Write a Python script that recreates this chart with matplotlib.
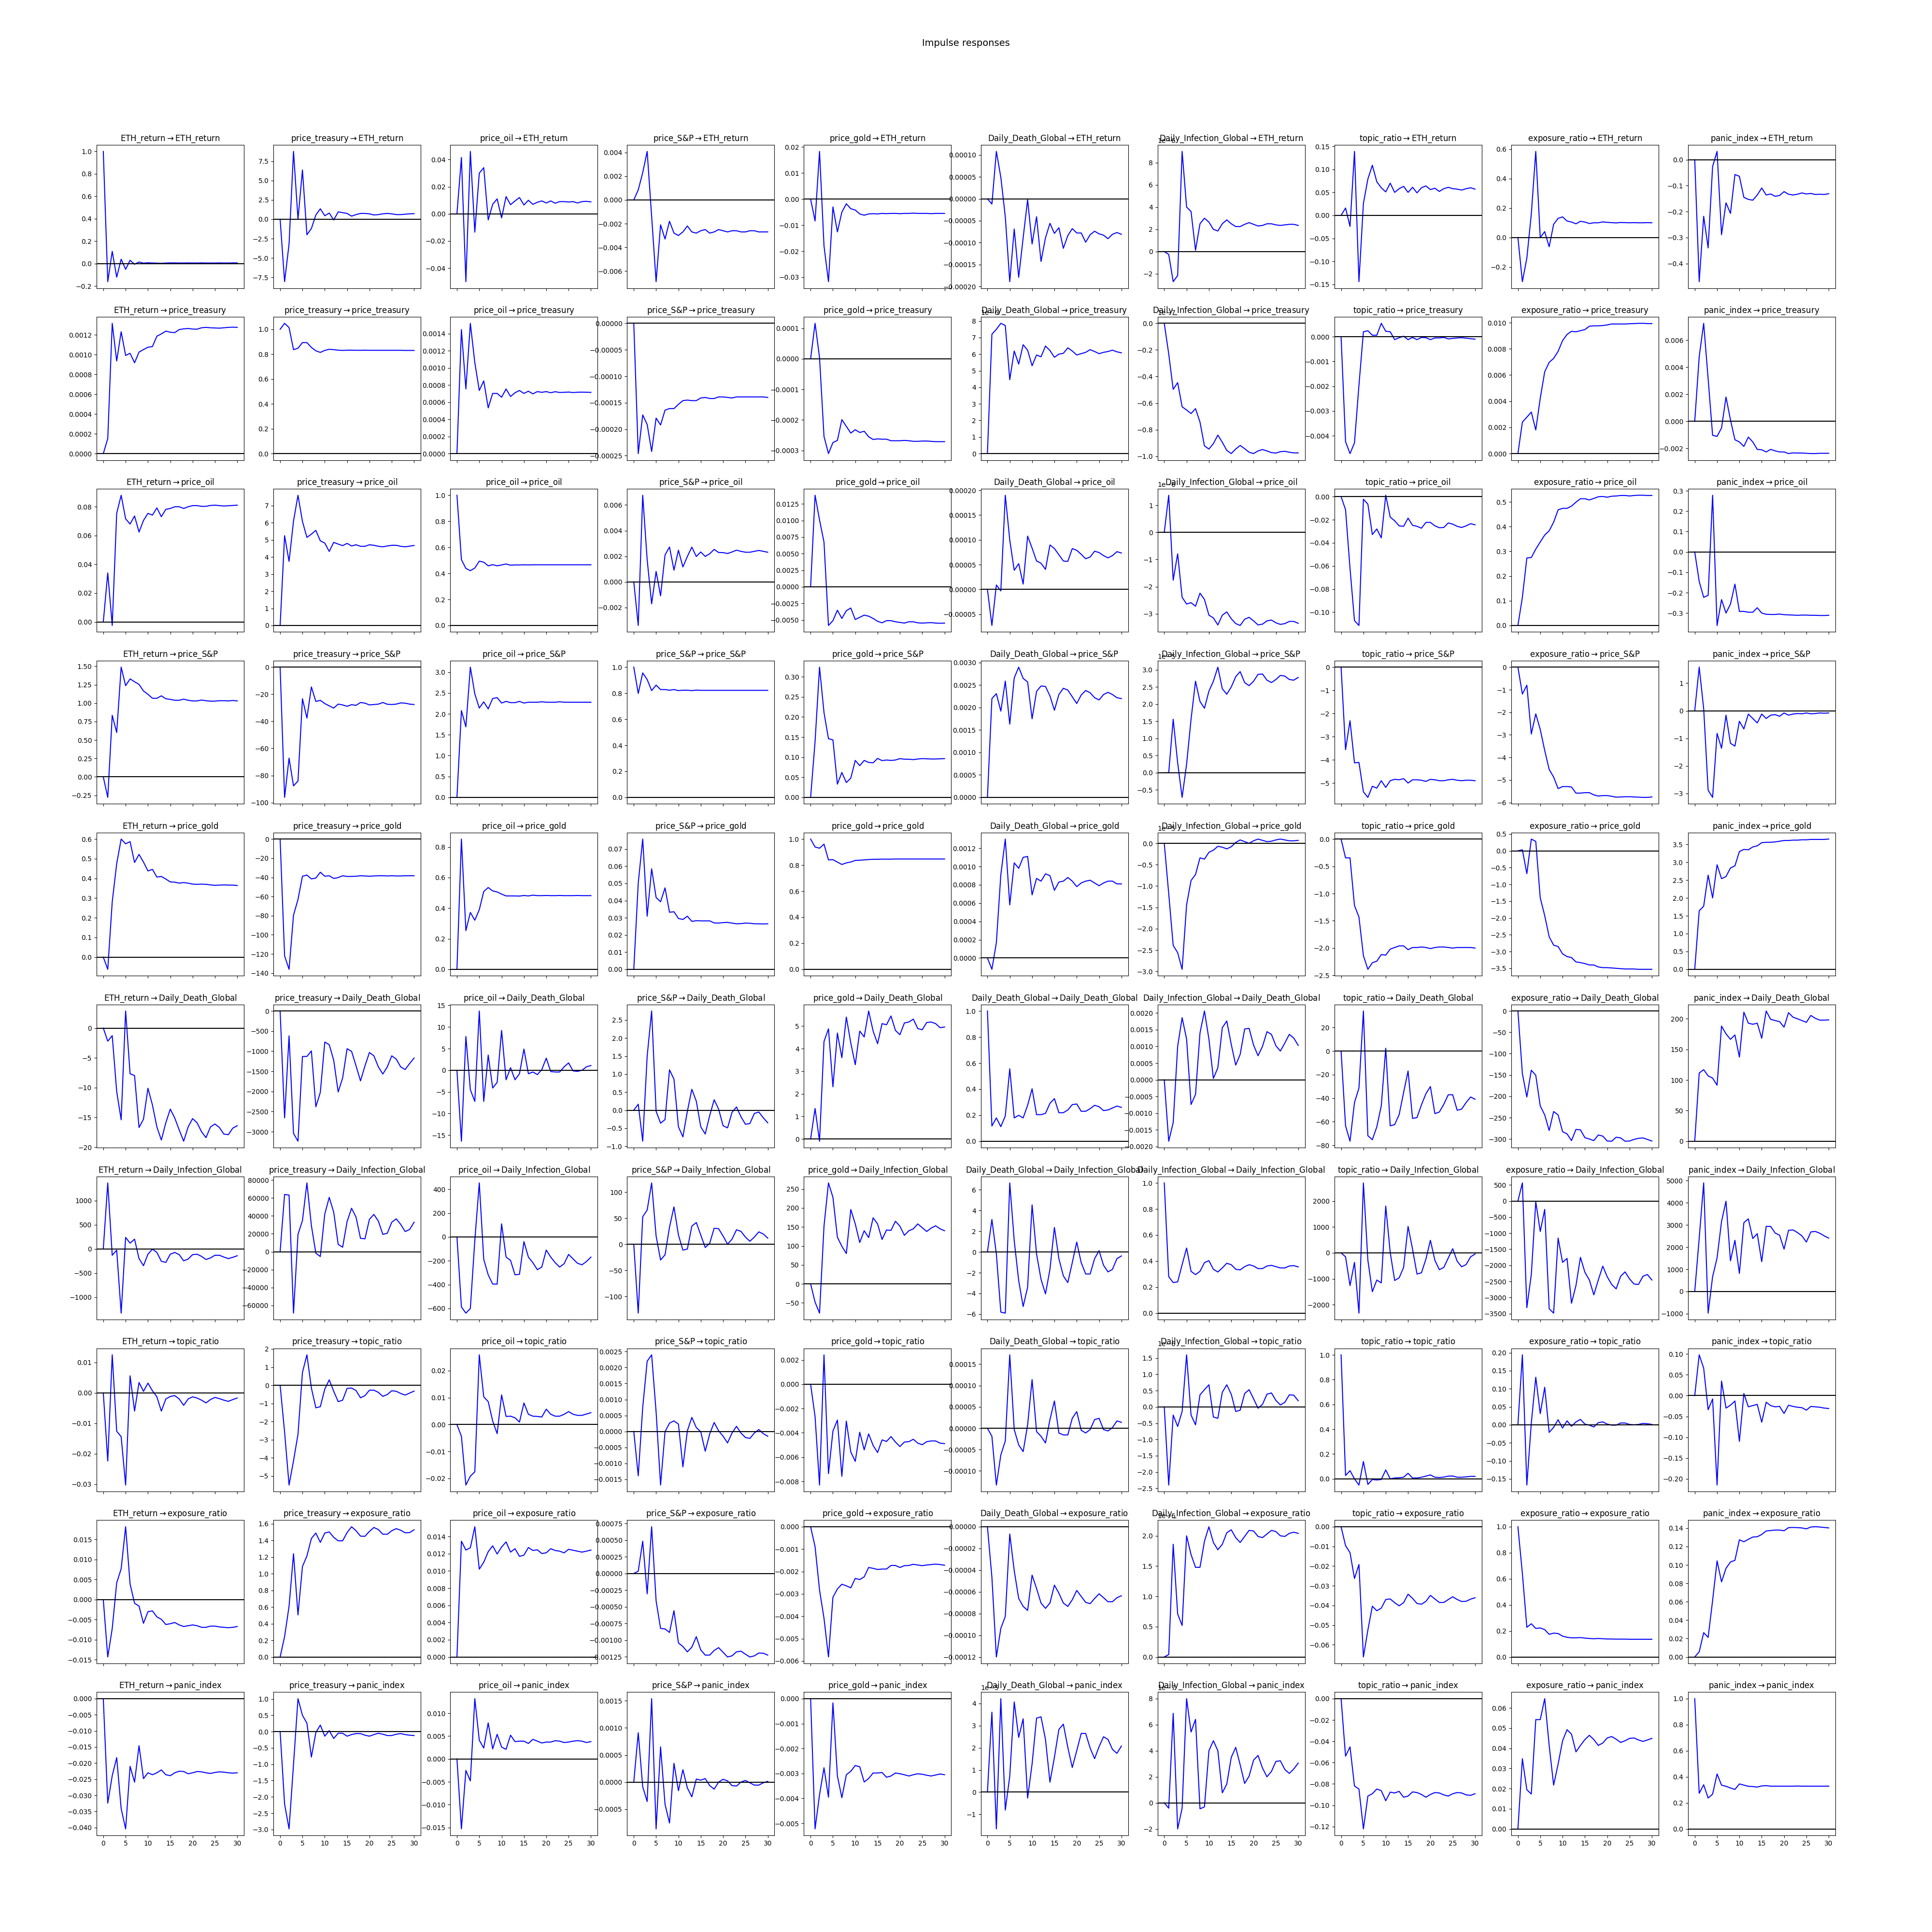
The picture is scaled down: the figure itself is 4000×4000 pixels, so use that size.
"""
VAR 脉冲响应网格图
------------------
10 个变量两两之间的脉冲响应（0~30 期），布局仿照 statsmodels 的 irf.plot()。
"""

import matplotlib
matplotlib.use("Agg")
import matplotlib.pyplot as plt

names = ["ETH_return", "price_treasury", "price_oil", "price_S&P", "price_gold",
         "Daily_Death_Global", "Daily_Infection_Global", "topic_ratio",
         "exposure_ratio", "panic_index"]

periods = list(range(31))

# ---------- 响应: ETH_return ----------
eth_eth = [1.0, -0.16, 0.11, -0.12, 0.04, -0.05, 0.03, -0.005, 0.015, 0.005,
           0.008, 0.006, 0.005, 0.003, 0.006, 0.007, 0.007, 0.006, 0.006, 0.007,
           0.006, 0.006, 0.007, 0.006, 0.006, 0.006, 0.007, 0.006, 0.006, 0.007, 0.007]
trs_eth = [0.0, -8.05, -3.2, 8.75, 0.0, 6.35, -2.0, -1.2, 0.55, 1.35,
           0.45, 0.8, -0.1, 0.95, 0.85, 0.75, 0.4, 0.6, 0.75, 0.75,
           0.7, 0.55, 0.6, 0.7, 0.75, 0.7, 0.6, 0.6, 0.65, 0.7, 0.72]
oil_eth = [0.0, 0.0415, -0.05, 0.046, -0.0135, 0.03, 0.034, -0.0045, 0.007, 0.011,
           -0.003, 0.0127, 0.0067, 0.0095, 0.012, 0.0065, 0.010, 0.007, 0.0085, 0.0095,
           0.008, 0.0095, 0.0078, 0.009, 0.009, 0.0087, 0.009, 0.008, 0.009, 0.0092, 0.0088]
spx_eth = [0.0, 0.00085, 0.0023, 0.0041, -0.0014, -0.0069, -0.0021, -0.0033, -0.0018, -0.0028,
           -0.003, -0.0027, -0.0022, -0.0027, -0.0028, -0.0026, -0.0025, -0.0028, -0.0027, -0.0025,
           -0.0026, -0.0027, -0.0026, -0.0026, -0.0027, -0.0027, -0.0026, -0.0026, -0.0027, -0.0027, -0.0027]
gld_eth = [0.0, -0.0084, 0.0183, -0.018, -0.0317, -0.003, -0.0126, -0.005, -0.0018, -0.0037,
           -0.0042, -0.0057, -0.0062, -0.0057, -0.0056, -0.0057, -0.0055, -0.0056, -0.0055, -0.0055,
           -0.0056, -0.0055, -0.0055, -0.0054, -0.0055, -0.0055, -0.0055, -0.0056, -0.0055, -0.0055, -0.0055]
dth_eth = [0.0, -0.000012, 0.000108, 0.000049, -0.000041, -0.000189, -0.000069, -0.000179, -0.000089, -0.000002,
           -0.000103, -0.000041, -0.000143, -0.000089, -0.000056, -0.000079, -0.000066, -0.000113, -0.000084, -0.000068,
           -0.000078, -0.000078, -0.000099, -0.000082, -0.000074, -0.00008, -0.000083, -0.000091, -0.000081, -0.000077, -0.000081]
inf_eth = [v * 1e-6 for v in
           [0.0, -0.25, -2.7, -2.15, 9.0, 4.0, 3.6, 0.12, 2.5, 3.0,
            2.65, 2.0, 1.85, 2.5, 2.85, 2.5, 2.25, 2.25, 2.45, 2.6,
            2.45, 2.3, 2.35, 2.5, 2.5, 2.4, 2.35, 2.4, 2.45, 2.45, 2.35]]
top_eth = [0.0, 0.016, -0.024, 0.139, -0.144, 0.026, 0.079, 0.109, 0.073, 0.06,
           0.051, 0.07, 0.05, 0.058, 0.063, 0.05, 0.061, 0.049, 0.06, 0.064,
           0.056, 0.059, 0.052, 0.058, 0.061, 0.058, 0.057, 0.055, 0.058, 0.06, 0.057]
exp_eth = [0.0, -0.30, -0.14, 0.16, 0.585, 0.0, 0.04, -0.063, 0.09, 0.13,
           0.14, 0.112, 0.105, 0.093, 0.11, 0.105, 0.095, 0.1, 0.1, 0.106,
           0.103, 0.101, 0.099, 0.102, 0.101, 0.1, 0.101, 0.1, 0.1, 0.101, 0.1]
pan_eth = [0.0, -0.47, -0.218, -0.34, -0.026, 0.032, -0.289, -0.166, -0.207, -0.057,
           -0.064, -0.145, -0.153, -0.156, -0.136, -0.109, -0.136, -0.132, -0.141, -0.138,
           -0.123, -0.133, -0.136, -0.133, -0.128, -0.132, -0.13, -0.134, -0.133, -0.134, -0.131]

# ---------- 响应: price_treasury ----------
eth_trs = [0.0, 0.000152, 0.001317, 0.000936, 0.001232, 0.000992, 0.001014, 0.000918, 0.001026, 0.001052,
           0.001075, 0.001082, 0.001187, 0.00121, 0.001238, 0.001227, 0.001223, 0.001254, 0.001261, 0.001265,
           0.001259, 0.001258, 0.001272, 0.001276, 0.001272, 0.00127, 0.001268, 0.001272, 0.001276, 0.001278, 0.001276]
trs_trs = [1.0, 1.048, 1.014, 0.836, 0.848, 0.893, 0.893, 0.854, 0.827, 0.814,
           0.83, 0.839, 0.836, 0.832, 0.83, 0.832, 0.832, 0.831, 0.831, 0.832,
           0.831, 0.831, 0.831, 0.831, 0.831, 0.831, 0.831, 0.831, 0.83, 0.83, 0.83]
oil_trs = [0.0, 0.001447, 0.000754, 0.00152, 0.001061, 0.000736, 0.000848, 0.000533, 0.000702, 0.000702,
           0.000658, 0.000754, 0.000666, 0.00071, 0.000736, 0.000702, 0.000728, 0.000697, 0.000723, 0.000715,
           0.000723, 0.00071, 0.000722, 0.000713, 0.000715, 0.000718, 0.000712, 0.000716, 0.000717, 0.000716, 0.000714]
spx_trs = [0.0, -0.000246, -0.000173, -0.000191, -0.000242, -0.000179, -0.000192, -0.000164, -0.000161, -0.000161,
           -0.000153, -0.000146, -0.000145, -0.000146, -0.000146, -0.000141, -0.00014, -0.000142, -0.000142, -0.000139,
           -0.000139, -0.00014, -0.000141, -0.000139, -0.000139, -0.000139, -0.000139, -0.000139, -0.000139, -0.000139, -0.00014]
gld_trs = [0.0, 0.000116, 0.000004, -0.000254, -0.00031, -0.000274, -0.000267, -0.000199, -0.000221, -0.000243,
           -0.000232, -0.000241, -0.000237, -0.000255, -0.000264, -0.000262, -0.000263, -0.000263, -0.000268, -0.000268,
           -0.000268, -0.000267, -0.000268, -0.00027, -0.00027, -0.000269, -0.000269, -0.00027, -0.000271, -0.000271, -0.000271]
dth_trs = [v * 1e-6 for v in
           [0.0, 7.2, 7.5, 7.86, 7.73, 4.46, 6.19, 5.4, 6.57, 6.24,
            5.3, 5.95, 5.84, 6.49, 6.22, 5.81, 6.0, 6.05, 6.38, 6.19,
            5.95, 6.03, 6.11, 6.27, 6.16, 6.03, 6.11, 6.16, 6.24, 6.14, 6.08]]
inf_trs = [v * 1e-7 for v in
           [0.0, -0.23, -0.497, -0.446, -0.628, -0.652, -0.679, -0.642, -0.743, -0.922,
            -0.946, -0.905, -0.841, -0.895, -0.956, -0.98, -0.946, -0.919, -0.943, -0.97,
            -0.98, -0.96, -0.95, -0.96, -0.973, -0.976, -0.966, -0.963, -0.97, -0.975, -0.975]]
top_trs = [0.0, -0.00424, -0.00472, -0.00429, -0.00196, 0.0002, 0.00024, 0.00006, 0.00006, 0.00054,
           0.00022, 0.0002, -0.00012, -0.00004, 0.00002, -0.00012, -0.00003, -0.00012, -0.00003, -0.00004,
           -0.00012, -0.00005, -0.00005, -0.00003, -0.00009, -0.00007, -0.00005, -0.00004, -0.00006, -0.00008, -0.0001]
exp_trs = [0.0, 0.0024, 0.00278, 0.00317, 0.0018, 0.00422, 0.00625, 0.00697, 0.00727, 0.00781,
           0.00863, 0.0091, 0.00934, 0.0093, 0.00939, 0.00947, 0.00973, 0.00976, 0.00976, 0.00978,
           0.00983, 0.0099, 0.0099, 0.0099, 0.0099, 0.00992, 0.00993, 0.00995, 0.00995, 0.00993, 0.00993]
pan_trs = [0.0, 0.00479, 0.00725, 0.00315, -0.00103, -0.00111, -0.00049, 0.0018, 0.00011, -0.00136,
           -0.00152, -0.00185, -0.00116, -0.00152, -0.00207, -0.0021, -0.00226, -0.00207, -0.00218, -0.00226,
           -0.00226, -0.00238, -0.00233, -0.00234, -0.00234, -0.00236, -0.00238, -0.00238, -0.00236, -0.00236, -0.00236]

# ---------- 响应: price_oil ----------
eth_oil = [0.0, 0.034, -0.0025, 0.0754, 0.088, 0.0716, 0.068, 0.0736, 0.0624, 0.0705,
           0.0754, 0.0742, 0.0792, 0.0731, 0.0782, 0.0788, 0.08, 0.08, 0.0788, 0.08,
           0.0808, 0.0808, 0.0803, 0.0803, 0.0809, 0.0811, 0.0808, 0.0805, 0.0807, 0.0809, 0.0811]
trs_oil = [0.0, 5.24, 3.74, 6.1, 7.6, 6.07, 5.14, 5.33, 5.55, 4.94,
           4.81, 4.32, 4.85, 4.75, 4.66, 4.79, 4.64, 4.71, 4.62, 4.62,
           4.71, 4.68, 4.62, 4.59, 4.64, 4.68, 4.68, 4.62, 4.59, 4.63, 4.67]
oil_oil = [1.0, 0.506, 0.438, 0.421, 0.441, 0.494, 0.486, 0.458, 0.467, 0.458,
           0.465, 0.472, 0.463, 0.465, 0.465, 0.466, 0.465, 0.466, 0.466, 0.466,
           0.466, 0.466, 0.466, 0.466, 0.466, 0.466, 0.466, 0.466, 0.466, 0.466, 0.466]
spx_oil = [0.0, -0.00341, 0.00676, 0.00172, -0.00172, 0.00081, -0.00109, 0.0021, 0.00272, 0.00091,
           0.00247, 0.00116, 0.00198, 0.00271, 0.00198, 0.00233, 0.00198, 0.00219, 0.00253, 0.00229,
           0.00228, 0.00221, 0.00233, 0.00247, 0.00238, 0.00231, 0.00231, 0.00238, 0.00245, 0.00238, 0.00231]
gld_oil = [0.0, 0.0138, 0.01007, 0.00673, -0.00583, -0.0051, -0.00353, -0.00477, -0.0036, -0.0032,
           -0.00493, -0.0046, -0.00427, -0.00443, -0.00477, -0.0052, -0.00543, -0.0051, -0.0051, -0.00527,
           -0.00537, -0.00547, -0.00527, -0.00527, -0.00543, -0.00547, -0.00543, -0.0054, -0.00547, -0.0055, -0.00547]
dth_oil = [0.0, -0.0000727, 0.000009, -0.000003, 0.00019, 0.0000996, 0.0000386, 0.000052, 0.0000108, 0.0001076,
           0.0000834, 0.0000574, 0.0000529, 0.0000404, 0.0000897, 0.0000825, 0.00007, 0.0000574, 0.0000565, 0.0000825,
           0.0000789, 0.0000709, 0.0000619, 0.0000655, 0.0000771, 0.0000744, 0.0000682, 0.0000637, 0.0000682, 0.0000762, 0.0000735]
inf_oil = [v * 1e-6 for v in
           [0.0, 1.37, -1.76, -0.79, -2.39, -2.64, -2.59, -2.72, -2.24, -2.47,
            -3.05, -3.15, -3.41, -3.05, -2.93, -3.18, -3.36, -3.43, -3.2, -3.13,
            -3.26, -3.41, -3.38, -3.26, -3.23, -3.33, -3.39, -3.36, -3.28, -3.28, -3.35]]
top_oil = [0.0, -0.0113, -0.0622, -0.1073, -0.1115, -0.0023, -0.0065, -0.0328, -0.028, -0.0357,
           0.0012, -0.0177, -0.0209, -0.0253, -0.0257, -0.0186, -0.0248, -0.0257, -0.0273, -0.0223,
           -0.0223, -0.0253, -0.0269, -0.0267, -0.0228, -0.0238, -0.0257, -0.0267, -0.0253, -0.0234, -0.0244]
exp_oil = [0.0, 0.114, 0.273, 0.275, 0.309, 0.338, 0.366, 0.383, 0.418, 0.468,
           0.474, 0.474, 0.483, 0.499, 0.513, 0.513, 0.508, 0.514, 0.521, 0.522,
           0.519, 0.523, 0.524, 0.526, 0.526, 0.524, 0.526, 0.527, 0.527, 0.526, 0.526]
pan_oil = [0.0, -0.145, -0.223, -0.213, 0.278, -0.361, -0.234, -0.3, -0.256, -0.158,
           -0.292, -0.292, -0.296, -0.296, -0.274, -0.3, -0.306, -0.307, -0.307, -0.305,
           -0.308, -0.309, -0.31, -0.311, -0.31, -0.31, -0.311, -0.311, -0.312, -0.312, -0.311]

# ---------- 响应: price_S&P ----------
eth_spx = [0.0, -0.278, 0.835, 0.602, 1.488, 1.237, 1.329, 1.29, 1.254, 1.165,
           1.12, 1.066, 1.066, 1.099, 1.06, 1.051, 1.039, 1.039, 1.054, 1.039,
           1.03, 1.03, 1.042, 1.033, 1.027, 1.027, 1.033, 1.033, 1.03, 1.036, 1.03]
trs_spx = [0.0, -96.2, -67.2, -87.7, -84.1, -23.3, -37.6, -14.6, -25.3, -24.5,
           -26.9, -28.6, -30.2, -27.3, -27.9, -28.9, -27.7, -28.2, -26.1, -26.6,
           -27.9, -27.6, -27.3, -26.1, -27.4, -27.6, -27.3, -26.4, -26.6, -27.3, -27.6]
oil_spx = [0.0, 2.08, 1.69, 3.12, 2.48, 2.14, 2.29, 2.12, 2.37, 2.39,
           2.26, 2.3, 2.27, 2.27, 2.3, 2.26, 2.28, 2.28, 2.28, 2.29,
           2.28, 2.28, 2.28, 2.29, 2.28, 2.28, 2.28, 2.28, 2.28, 2.28, 2.28]
spx_spx = [1.0, 0.798, 0.956, 0.905, 0.82, 0.862, 0.828, 0.828, 0.823, 0.828,
           0.82, 0.823, 0.823, 0.82, 0.824, 0.822, 0.822, 0.822, 0.822, 0.822,
           0.822, 0.822, 0.822, 0.822, 0.822, 0.822, 0.822, 0.822, 0.822, 0.822, 0.822]
gld_spx = [0.0, 0.139, 0.324, 0.211, 0.146, 0.143, 0.033, 0.062, 0.037, 0.048,
           0.092, 0.079, 0.092, 0.087, 0.086, 0.097, 0.0915, 0.093, 0.092, 0.093,
           0.0965, 0.095, 0.095, 0.094, 0.0955, 0.0965, 0.096, 0.0955, 0.0955, 0.096, 0.0965]
dth_spx = [0.0, 0.0022, 0.00231, 0.00192, 0.00259, 0.00163, 0.00266, 0.0029, 0.00265, 0.00257,
           0.00175, 0.00236, 0.00248, 0.00247, 0.00226, 0.00194, 0.00229, 0.00243, 0.00239, 0.00224,
           0.00209, 0.00228, 0.00238, 0.00233, 0.00222, 0.00217, 0.00229, 0.00234, 0.00229, 0.00222, 0.0022]
inf_spx = [v * 1e-5 for v in
           [0.0, 0.0, 1.56, 0.29, -0.72, 0.25, 1.56, 2.67, 2.08, 1.88,
            2.38, 2.67, 3.08, 2.45, 2.29, 2.5, 2.8, 2.95, 2.63, 2.54,
            2.67, 2.87, 2.88, 2.7, 2.63, 2.72, 2.84, 2.82, 2.72, 2.7, 2.78]]
top_spx = [0.0, -3.56, -2.31, -4.13, -4.11, -5.38, -5.62, -5.14, -5.22, -4.9,
           -5.19, -4.9, -4.84, -4.86, -4.81, -5.0, -4.86, -4.86, -4.88, -4.93,
           -4.84, -4.86, -4.9, -4.9, -4.86, -4.84, -4.88, -4.9, -4.88, -4.88, -4.9]
exp_spx = [0.0, -1.19, -0.8, -2.96, -2.07, -2.76, -3.69, -4.53, -4.87, -5.38,
           -5.29, -5.29, -5.31, -5.58, -5.58, -5.56, -5.56, -5.66, -5.71, -5.69,
           -5.69, -5.72, -5.76, -5.75, -5.74, -5.74, -5.75, -5.76, -5.77, -5.77, -5.75]
pan_spx = [0.0, 1.58, 0.08, -2.88, -3.14, -0.82, -1.36, -0.16, -1.18, -1.28,
           -0.38, -0.66, -0.12, -0.28, -0.44, -0.12, -0.28, -0.16, -0.14, -0.2,
           -0.08, -0.16, -0.12, -0.1, -0.11, -0.08, -0.11, -0.1, -0.08, -0.09, -0.08]

# ---------- 响应: price_gold ----------
eth_gld = [0.0, -0.062, 0.281, 0.475, 0.6, 0.576, 0.587, 0.481, 0.522, 0.483,
           0.438, 0.446, 0.407, 0.41, 0.397, 0.382, 0.381, 0.376, 0.379, 0.376,
           0.371, 0.37, 0.371, 0.37, 0.367, 0.365, 0.366, 0.367, 0.366, 0.366, 0.364]
trs_gld = [0.0, -122.0, -136.0, -79.4, -63.0, -38.8, -37.6, -41.6, -40.7, -34.6,
           -38.8, -38.3, -41.1, -40.2, -38.3, -39.0, -39.0, -38.8, -38.3, -38.5,
           -38.8, -38.5, -38.3, -38.3, -38.5, -38.3, -38.5, -38.5, -38.3, -38.3, -38.3]
oil_gld = [0.0, 0.852, 0.253, 0.372, 0.321, 0.39, 0.509, 0.535, 0.513, 0.506,
           0.492, 0.48, 0.48, 0.48, 0.479, 0.483, 0.48, 0.485, 0.482, 0.482,
           0.483, 0.482, 0.482, 0.483, 0.482, 0.482, 0.482, 0.483, 0.482, 0.482, 0.482]
spx_gld = [0.0, 0.0502, 0.0758, 0.0309, 0.0585, 0.0418, 0.0393, 0.0474, 0.0332, 0.0335,
           0.0296, 0.029, 0.0309, 0.0279, 0.0283, 0.0282, 0.0282, 0.0282, 0.027, 0.0269,
           0.0272, 0.0273, 0.0269, 0.0265, 0.0266, 0.0269, 0.0268, 0.0265, 0.0265, 0.0264, 0.0265]
gld_gld = [1.0, 0.939, 0.93, 0.961, 0.84, 0.842, 0.823, 0.805, 0.817, 0.824,
           0.836, 0.838, 0.84, 0.843, 0.845, 0.845, 0.846, 0.846, 0.846, 0.847,
           0.847, 0.847, 0.847, 0.847, 0.847, 0.847, 0.847, 0.847, 0.847, 0.847, 0.847]
dth_gld = [0.0, -0.000124, 0.000167, 0.00091, 0.0013, 0.00058, 0.00104, 0.00098, 0.0011, 0.00111,
           0.00069, 0.00087, 0.00084, 0.00092, 0.0009, 0.00074, 0.00083, 0.00084, 0.00088, 0.00084,
           0.00078, 0.00082, 0.00084, 0.00085, 0.00082, 0.00079, 0.00082, 0.00084, 0.00084, 0.00081, 0.00081]
inf_gld = [v * 1e-5 for v in
           [0.0, -1.18, -2.39, -2.56, -2.95, -1.44, -0.87, -0.73, -0.34, -0.37,
            -0.21, -0.16, -0.07, -0.09, -0.13, -0.08, 0.02, 0.08, 0.04, 0.0,
            0.06, 0.1, 0.07, 0.04, 0.05, 0.08, 0.1, 0.08, 0.06, 0.06, 0.07]]
top_gld = [0.0, -0.345, -0.345, -1.22, -1.43, -2.14, -2.39, -2.27, -2.24, -2.12,
           -2.13, -2.02, -1.99, -1.96, -1.96, -2.03, -1.99, -1.99, -1.98, -1.99,
           -2.01, -1.99, -1.98, -1.98, -1.99, -2.0, -1.99, -1.99, -1.99, -1.99, -2.0]
exp_gld = [0.0, 0.03, -0.68, 0.35, 0.28, -1.4, -1.93, -2.56, -2.81, -2.85,
           -3.07, -3.15, -3.18, -3.31, -3.33, -3.36, -3.4, -3.4, -3.46, -3.48,
           -3.48, -3.49, -3.5, -3.51, -3.52, -3.52, -3.52, -3.53, -3.53, -3.53, -3.53]
pan_gld = [0.0, 1.64, 1.77, 2.64, 2.0, 2.93, 2.54, 2.6, 2.84, 2.9,
           3.3, 3.36, 3.35, 3.43, 3.46, 3.55, 3.56, 3.56, 3.57, 3.59,
           3.61, 3.61, 3.62, 3.62, 3.63, 3.63, 3.64, 3.64, 3.64, 3.64, 3.65]

# ---------- 响应: Daily_Death_Global ----------
eth_dth = [0.0, -2.2, -1.27, -10.65, -15.4, 2.87, -7.67, -7.97, -16.7, -15.3,
           -10.1, -12.9, -16.6, -18.8, -15.9, -13.6, -15.1, -17.1, -19.0, -16.6,
           -15.2, -15.9, -17.4, -18.4, -16.6, -16.1, -16.7, -17.8, -17.9, -16.8, -16.4]
trs_dth = [0.0, -2657, -617, -3043, -3236, -1130, -1130, -992, -2381, -2023,
           -772, -838, -1224, -2012, -1665, -937, -1003, -1362, -1737, -1362,
           -1031, -1114, -1389, -1566, -1389, -1114, -1196, -1389, -1455, -1306, -1169]
oil_dth = [0.0, -16.4, 7.8, -4.5, -7.2, 13.7, -7.2, 3.5, -4.1, -2.8,
           9.2, -2.2, 0.6, -2.2, -0.8, 4.9, -0.8, -0.4, -1.0, 0.15,
           2.8, -0.3, -0.4, -0.4, 0.8, 1.7, -0.15, -0.25, 0.0, 0.8, 1.1]
spx_dth = [0.0, 0.166, -0.86, 1.5, 2.75, -0.03, -0.36, -0.26, 1.12, 0.86,
           -0.46, -0.74, -0.03, 0.58, 0.25, -0.46, -0.66, -0.15, 0.29, 0.03,
           -0.43, -0.49, -0.06, 0.09, -0.18, -0.39, -0.37, -0.09, -0.05, -0.21, -0.35]
gld_dth = [0.0, 1.35, -0.1, 4.32, 4.88, 2.31, 4.69, 3.6, 5.4, 4.25,
           3.29, 4.78, 4.52, 5.67, 4.78, 4.22, 5.11, 5.06, 5.45, 4.81,
           4.62, 5.14, 5.18, 5.31, 4.89, 4.84, 5.16, 5.18, 5.11, 4.93, 4.96]
dth_dth = [1.0, 0.117, 0.179, 0.112, 0.194, 0.556, 0.179, 0.199, 0.179, 0.276,
           0.403, 0.204, 0.204, 0.214, 0.291, 0.327, 0.219, 0.219, 0.24, 0.281,
           0.286, 0.23, 0.23, 0.25, 0.276, 0.265, 0.235, 0.24, 0.255, 0.27, 0.26]
inf_dth = [0.0, -0.00184, -0.00128, 0.001, 0.00186, 0.00122, -0.00074, -0.00044, 0.0014, 0.00206,
           0.00122, 0.00004, 0.00036, 0.00156, 0.00176, 0.00106, 0.00044, 0.00076, 0.00152, 0.00154,
           0.00104, 0.00072, 0.001, 0.00144, 0.00136, 0.00102, 0.00086, 0.0011, 0.00136, 0.00125, 0.00103]
top_dth = [0.0, -63.5, -76.6, -43.7, -31.4, 34.1, -71.9, -75.3, -64.4, -46.5,
           2.4, -63.5, -62.5, -54.0, -35.2, -16.9, -57.2, -56.5, -45.6, -36.2,
           -30.1, -53.1, -51.8, -45.2, -37.1, -37.1, -50.3, -49.3, -43.7, -39.0, -40.9]
exp_dth = [0.0, -146.6, -201.6, -138.7, -150.8, -222.5, -243.5, -280.1, -235.6, -243.5,
           -282.7, -288.0, -303.7, -277.5, -278.5, -296.9, -300.0, -303.7, -290.6, -293.2,
           -304.7, -305.2, -295.8, -297.4, -305.2, -304.7, -301.0, -298.4, -297.4, -301.0, -304.7]
pan_dth = [0.0, 111.4, 116.8, 106.7, 103.1, 91.5, 188.0, 175.4, 166.4, 173.6,
           137.4, 210.8, 192.8, 191.0, 192.8, 168.2, 212.7, 199.0, 197.1, 195.3,
           186.3, 209.9, 202.6, 200.0, 197.1, 194.2, 205.4, 200.7, 197.8, 197.8, 198.2]

# ---------- 响应: Daily_Infection_Global ----------
eth_inf = [0, 1365, -132, -27, -1329, 237, 119, 201, -201, -347,
           -110, -5, -73, -256, -279, -110, -73, -119, -247, -210,
           -119, -110, -155, -219, -187, -132, -132, -169, -201, -174, -142]
trs_inf = [0, 63900, 63200, -68600, 19300, 34700, 76800, 29200, -1700, -5400,
           42100, 60700, 44100, 8200, 5000, 33700, 48500, 38600, 14900, 14400,
           36200, 41600, 34200, 19300, 20600, 32900, 36700, 30500, 22500, 24800, 32900]
oil_inf = [0, -588, -640, -601, -30, 454, -188, -318, -396, -396,
           110, -169, -197, -318, -314, -39, -169, -216, -275, -253,
           -110, -169, -216, -253, -225, -147, -184, -221, -234, -206, -169]
spx_inf = [0, -132, 53, 66, 118, 16, -30, -20, 33, 72,
           18, -11, -9, 35, 42, 18, -6, 2, 31, 30,
           16, 0.4, 10, 28, 25, 14, 6, 14, 24, 20, 12]
gld_inf = [0, -48, -77, 152, 266, 228, 123, 99, 80, 196,
           158, 109, 140, 122, 174, 158, 117, 142, 141, 165,
           152, 128, 140, 145, 158, 148, 138, 147, 153, 145, 140]
dth_inf = [0.0, 3.14, -0.19, -5.8, -5.9, 6.67, 1.09, -2.76, -5.26, -3.4,
           4.55, -0.19, -2.63, -4.04, -1.67, 2.37, -0.64, -2.31, -2.95, -1.03,
           0.96, -1.03, -2.12, -2.12, -0.64, 0.13, -1.28, -1.92, -1.67, -0.64, -0.38]
inf_inf = [1.0, 0.28, 0.235, 0.24, 0.372, 0.5, 0.321, 0.296, 0.321, 0.388,
           0.403, 0.337, 0.316, 0.347, 0.383, 0.372, 0.337, 0.332, 0.357, 0.372,
           0.362, 0.342, 0.342, 0.362, 0.367, 0.357, 0.347, 0.347, 0.362, 0.365, 0.355]
top_inf = [0, -153, -1260, -366, -2323, 2698, -281, -1498, -1047, -1157,
           1804, 17, -1064, -962, -562, 1021, 145, -817, -766, -238,
           485, -281, -647, -562, -196, 162, -323, -536, -451, -153, -43]
exp_inf = [0, 562, -3313, -2284, -21, -947, -261, -3347, -3484, -1152,
           -1907, -1783, -3176, -2627, -1749, -2215, -2455, -2915, -2455, -2023,
           -2353, -2593, -2730, -2339, -2202, -2421, -2579, -2593, -2339, -2284, -2455]
pan_inf = [0, 2410, 4900, -976, 667, 1514, 3157, 4074, 1384, 2311,
           817, 3108, 3277, 2390, 2610, 1345, 2938, 2938, 2640, 2540,
           1912, 2759, 2779, 2660, 2510, 2231, 2689, 2709, 2630, 2510, 2410]

# ---------- 响应: topic_ratio ----------
eth_top = [0.0, -0.0224, 0.0125, -0.0126, -0.0144, -0.0303, 0.0056, -0.006, 0.0034, 0.0005,
           0.0032, 0.0007, -0.0013, -0.006, -0.002, -0.0012, -0.0009, -0.002, -0.0041, -0.002,
           -0.0013, -0.0017, -0.0024, -0.0033, -0.0022, -0.0015, -0.0019, -0.0024, -0.0028, -0.0022, -0.0017]
trs_top = [0.0, -2.58, -5.5, -4.16, -2.7, 0.71, 1.68, -0.15, -1.24, -1.18,
           -0.21, 0.3, -0.33, -0.9, -0.82, -0.17, -0.15, -0.29, -0.69, -0.57,
           -0.27, -0.27, -0.39, -0.61, -0.51, -0.3, -0.33, -0.45, -0.54, -0.43, -0.32]
oil_top = [0.0, -0.0044, -0.0225, -0.0192, -0.0176, 0.0259, 0.0103, 0.0085, 0.0013, -0.0034,
           0.011, 0.003, 0.0031, 0.0025, 0.0009, 0.008, 0.0038, 0.0031, 0.003, 0.0028,
           0.0057, 0.0038, 0.0031, 0.0031, 0.0038, 0.0048, 0.0038, 0.0034, 0.0034, 0.0039, 0.0044]
spx_top = [0.0, -0.00139, 0.00075, 0.0022, 0.0024, 0.00061, -0.00168, -0.00001, 0.00026, 0.00033,
           0.00023, -0.00111, 0.00002, 0.00044, 0.00012, -0.00001, -0.00062, -0.00008, 0.00028, 0.00002,
           -0.00015, -0.00036, -0.00005, 0.00016, -0.00005, -0.00019, -0.00022, -0.00005, 0.00006, -0.00007, -0.00015]
gld_top = [0.0, -0.00267, -0.0083, 0.00242, -0.00736, -0.00385, -0.00295, -0.00758, -0.00304, -0.00558,
           -0.00635, -0.00395, -0.0054, -0.00409, -0.00504, -0.00562, -0.00458, -0.00471, -0.00431, -0.00476,
           -0.00513, -0.00476, -0.00473, -0.00453, -0.00485, -0.00498, -0.00473, -0.00467, -0.00467, -0.00485, -0.00489]
dth_top = [0.0, -0.0000188, -0.000133, -0.0000625, -0.0000297, 0.000172, -0.000003, -0.000039, -0.0000547, 0.0000078,
           0.000114, -0.0000078, -0.0000188, -0.0000344, 0.0000203, 0.000064, -0.000011, -0.0000156, -0.0000156, 0.0000234,
           0.000039, -0.0000047, -0.000011, -0.000003, 0.0000203, 0.0000234, -0.000003, -0.0000063, 0.0000016, 0.0000172, 0.000014]
inf_top = [v * 1e-6 for v in
           [0.0, -2.4, -0.25, -0.6, -0.14, 1.6, -0.25, -0.55, 0.37, 0.53,
            0.68, -0.31, -0.35, 0.45, 0.68, 0.39, -0.14, -0.1, 0.41, 0.53,
            0.25, -0.04, 0.08, 0.39, 0.43, 0.2, 0.06, 0.14, 0.37, 0.36, 0.19]]
top_top = [1.0, 0.027, 0.066, 0.0, -0.05, 0.14, -0.045, -0.005, -0.009, -0.005,
           0.072, 0.0, 0.007, 0.009, 0.013, 0.045, 0.007, 0.007, 0.013, 0.022,
           0.032, 0.013, 0.011, 0.014, 0.022, 0.023, 0.013, 0.013, 0.016, 0.02, 0.02]
exp_top = [0.0, 0.194, -0.167, 0.005, 0.132, 0.031, 0.104, -0.021, -0.007, 0.014,
           -0.009, 0.011, -0.004, 0.008, 0.015, 0.002, -0.001, -0.006, 0.006, 0.008,
           0.002, -0.001, -0.001, 0.005, 0.005, 0.001, 0.0, 0.001, 0.004, 0.003, 0.001]
pan_top = [0.0, 0.098, 0.066, -0.034, -0.008, -0.215, 0.035, -0.03, -0.023, -0.013,
           -0.11, 0.005, -0.027, -0.024, -0.021, -0.064, -0.016, -0.024, -0.027, -0.026,
           -0.043, -0.023, -0.026, -0.028, -0.029, -0.035, -0.026, -0.027, -0.028, -0.03, -0.031]

# ---------- 响应: exposure_ratio ----------
eth_exp = [0.0, -0.0143, -0.0072, 0.0042, 0.0077, 0.0182, 0.0039, -0.0009, -0.0016, -0.0059,
           -0.003, -0.0028, -0.0043, -0.0049, -0.0062, -0.006, -0.0057, -0.0063, -0.0067, -0.0065,
           -0.0063, -0.0065, -0.0069, -0.0069, -0.0066, -0.0066, -0.0068, -0.0069, -0.007, -0.0069, -0.0067]
trs_exp = [0.0, 0.244, 0.609, 1.24, 0.505, 1.086, 1.213, 1.423, 1.488, 1.376,
           1.488, 1.502, 1.437, 1.395, 1.395, 1.494, 1.564, 1.516, 1.451, 1.449,
           1.508, 1.555, 1.53, 1.474, 1.474, 1.516, 1.541, 1.522, 1.491, 1.494, 1.527]
oil_exp = [0.0, 0.01345, 0.01242, 0.01269, 0.01513, 0.0102, 0.01101, 0.01223, 0.01291, 0.01196,
           0.01277, 0.01337, 0.01218, 0.01258, 0.01169, 0.01183, 0.01272, 0.01237, 0.01245, 0.01202,
           0.0121, 0.01258, 0.01237, 0.01229, 0.0121, 0.01251, 0.0124, 0.01229, 0.01218, 0.01229, 0.01242]
spx_exp = [0.0, 0.000035, 0.000485, -0.000305, 0.000702, -0.000411, -0.000825, -0.000832, -0.000885, -0.000558,
           -0.001043, -0.001096, -0.001176, -0.001106, -0.000948, -0.001148, -0.001225, -0.001225, -0.001155, -0.001113,
           -0.001183, -0.001253, -0.001236, -0.001176, -0.001166, -0.001211, -0.001253, -0.001236, -0.001194, -0.001197, -0.001225]
gld_exp = [0.0, -0.00089, -0.00283, -0.00409, -0.00582, -0.00315, -0.00278, -0.00257, -0.00264, -0.00273,
           -0.00231, -0.00236, -0.00224, -0.00182, -0.00186, -0.00191, -0.00189, -0.00189, -0.00173, -0.00173,
           -0.00182, -0.00174, -0.00173, -0.00168, -0.00171, -0.00174, -0.00171, -0.00169, -0.00167, -0.00169, -0.00172]
dth_exp = [0.0, -0.0000465, -0.00012, -0.0000936, -0.0000826, -0.0000067, -0.0000404, -0.0000661, -0.0000734, -0.0000771,
           -0.0000446, -0.0000569, -0.0000703, -0.0000752, -0.0000703, -0.0000538, -0.0000612, -0.0000703, -0.0000734, -0.0000673,
           -0.0000587, -0.0000642, -0.0000697, -0.0000709, -0.0000661, -0.0000618, -0.0000654, -0.0000691, -0.0000691, -0.0000654, -0.0000636]
inf_exp = [v * 1e-6 for v in
           [0.0, 0.04, 1.86, 0.71, 0.52, 2.0, 1.69, 1.48, 1.48, 1.91,
            2.15, 1.89, 1.77, 1.86, 2.05, 2.1, 1.97, 1.89, 1.99, 2.09,
            2.08, 1.99, 1.97, 2.03, 2.09, 2.07, 2.0, 1.99, 2.04, 2.06, 2.04]]
top_exp = [0.0, -0.0096, -0.0132, -0.0263, -0.0192, -0.0662, -0.0525, -0.0404, -0.0427, -0.0414,
           -0.037, -0.0367, -0.0386, -0.0402, -0.0386, -0.0343, -0.0364, -0.039, -0.0394, -0.0379,
           -0.0349, -0.0367, -0.0385, -0.0385, -0.037, -0.0356, -0.037, -0.038, -0.0379, -0.0368, -0.0361]
exp_exp = [1.0, 0.641, 0.228, 0.255, 0.219, 0.223, 0.21, 0.174, 0.183, 0.18,
           0.16, 0.151, 0.147, 0.147, 0.149, 0.145, 0.142, 0.14, 0.142, 0.14,
           0.138, 0.138, 0.137, 0.137, 0.137, 0.136, 0.136, 0.136, 0.136, 0.136, 0.136]
pan_exp = [0.0, 0.0056, 0.0264, 0.0213, 0.0613, 0.1044, 0.0816, 0.0963, 0.1032, 0.105,
           0.1273, 0.1252, 0.1278, 0.1303, 0.1306, 0.1331, 0.1369, 0.1374, 0.1379, 0.1379,
           0.1371, 0.1405, 0.1407, 0.1405, 0.1402, 0.1392, 0.1412, 0.1415, 0.1412, 0.1407, 0.1402]

# ---------- 响应: panic_index ----------
eth_pan = [0.0, -0.0324, -0.0239, -0.0183, -0.0341, -0.0404, -0.021, -0.0259, -0.0146, -0.0248,
           -0.023, -0.0236, -0.023, -0.0221, -0.0236, -0.0239, -0.023, -0.0225, -0.0226, -0.0233,
           -0.023, -0.0226, -0.0227, -0.023, -0.0232, -0.0229, -0.0227, -0.0228, -0.023, -0.0231, -0.023]
trs_pan = [0.0, -2.22, -2.98, -1.0, 1.01, 0.5, 0.26, -0.78, -0.03, 0.2,
           -0.14, 0.03, -0.21, -0.05, -0.05, -0.14, -0.09, -0.06, -0.06, -0.11,
           -0.14, -0.09, -0.05, -0.08, -0.12, -0.12, -0.08, -0.06, -0.09, -0.11, -0.12]
oil_pan = [0.0, -0.0153, -0.0025, -0.0048, 0.0132, 0.0041, 0.0024, 0.0079, 0.0022, 0.0054,
           0.0026, 0.0021, 0.0052, 0.0038, 0.0039, 0.0039, 0.0034, 0.0043, 0.0039, 0.0035,
           0.0037, 0.0037, 0.004, 0.0039, 0.0036, 0.0037, 0.0039, 0.004, 0.0039, 0.0036, 0.0038]
spx_pan = [0.0, 0.00091, -0.000086, -0.000359, 0.00154, -0.000864, 0.00065, -0.00041, -0.000756, 0.000346,
           -0.00016, 0.000229, -0.000108, -0.000272, 0.000056, 0.000035, 0.000065, -0.000065, -0.00013, 0.0,
           0.000052, 0.000022, -0.000065, -0.000073, 0.0, 0.00003, -0.000013, -0.000056, -0.000056, -0.000013, 0.000013]
gld_pan = [0.0, -0.00522, -0.00385, -0.00277, -0.00395, -0.00017, -0.0031, -0.00397, -0.00305, -0.00291,
           -0.00268, -0.00273, -0.00334, -0.0032, -0.00298, -0.00298, -0.00296, -0.00315, -0.0031, -0.00298,
           -0.00301, -0.00305, -0.0031, -0.00305, -0.00301, -0.00303, -0.00307, -0.0031, -0.00306, -0.00302, -0.00305]
dth_pan = [v * 1e-5 for v in
           [0.0, 3.61, -1.66, 4.22, -0.81, 0.72, 4.07, 2.47, 3.31, -0.27,
            1.27, 3.34, 3.4, 2.38, 0.45, 1.57, 2.83, 3.07, 2.02, 1.11,
            1.87, 2.65, 2.65, 1.99, 1.51, 2.05, 2.5, 2.38, 1.93, 1.75, 2.08]]
inf_pan = [v * 1e-7 for v in
           [0.0, -0.41, 6.87, -2.0, -0.41, 8.0, 5.44, 6.41, -0.46, -0.31,
            4.0, 4.77, 4.0, 0.77, 1.44, 3.49, 4.26, 2.92, 1.49, 2.05,
            3.28, 3.64, 2.67, 2.0, 2.41, 3.18, 3.23, 2.56, 2.26, 2.6, 3.05]]
top_pan = [0.0, -0.054, -0.0452, -0.082, -0.0848, -0.1222, -0.0914, -0.0892, -0.0848, -0.0863,
           -0.0958, -0.0877, -0.0885, -0.087, -0.0925, -0.0914, -0.0875, -0.0881, -0.0899, -0.0925,
           -0.0899, -0.0881, -0.0885, -0.0903, -0.0914, -0.0892, -0.0881, -0.0885, -0.0903, -0.0907, -0.0892]
exp_pan = [0.0, 0.0348, 0.0194, 0.0173, 0.0542, 0.0542, 0.0646, 0.0414, 0.0217, 0.0321,
           0.0437, 0.0492, 0.047, 0.0382, 0.0414, 0.0443, 0.0464, 0.0443, 0.0414, 0.0426,
           0.0451, 0.0458, 0.0445, 0.0429, 0.0437, 0.0449, 0.0451, 0.0441, 0.0434, 0.0441, 0.0449]
pan_pan = [1.0, 0.273, 0.339, 0.237, 0.267, 0.422, 0.336, 0.327, 0.314, 0.303,
           0.345, 0.336, 0.327, 0.325, 0.321, 0.33, 0.332, 0.328, 0.328, 0.328,
           0.328, 0.328, 0.328, 0.329, 0.328, 0.328, 0.328, 0.328, 0.328, 0.328, 0.328]


def build_grid():
    """行 = 响应变量，列 = 冲击变量"""
    return [
        [eth_eth, trs_eth, oil_eth, spx_eth, gld_eth, dth_eth, inf_eth, top_eth, exp_eth, pan_eth],
        [eth_trs, trs_trs, oil_trs, spx_trs, gld_trs, dth_trs, inf_trs, top_trs, exp_trs, pan_trs],
        [eth_oil, trs_oil, oil_oil, spx_oil, gld_oil, dth_oil, inf_oil, top_oil, exp_oil, pan_oil],
        [eth_spx, trs_spx, oil_spx, spx_spx, gld_spx, dth_spx, inf_spx, top_spx, exp_spx, pan_spx],
        [eth_gld, trs_gld, oil_gld, spx_gld, gld_gld, dth_gld, inf_gld, top_gld, exp_gld, pan_gld],
        [eth_dth, trs_dth, oil_dth, spx_dth, gld_dth, dth_dth, inf_dth, top_dth, exp_dth, pan_dth],
        [eth_inf, trs_inf, oil_inf, spx_inf, gld_inf, dth_inf, inf_inf, top_inf, exp_inf, pan_inf],
        [eth_top, trs_top, oil_top, spx_top, gld_top, dth_top, inf_top, top_top, exp_top, pan_top],
        [eth_exp, trs_exp, oil_exp, spx_exp, gld_exp, dth_exp, inf_exp, top_exp, exp_exp, pan_exp],
        [eth_pan, trs_pan, oil_pan, spx_pan, gld_pan, dth_pan, inf_pan, top_pan, exp_pan, pan_pan],
    ]


def main():
    grid = build_grid()
    k = len(names)

    fig, axes = plt.subplots(nrows=k, ncols=k, sharex=True, squeeze=False,
                             figsize=(40, 40))
    plt.subplots_adjust(left=0.05, right=0.95, bottom=0.05, top=0.925,
                        wspace=0.2, hspace=0.2)
    fig.suptitle("Impulse responses", fontsize=14)

    for i in range(k):          # 响应
        for j in range(k):      # 冲击
            ax = axes[i][j]
            ax.plot(periods, grid[i][j], "b-")
            ax.axhline(0, color="k")
            # y 固定为 1.0：标题不因 1e-x 偏移标注而上移（与原图一致）
            ax.set_title(r"%s$\rightarrow$%s" % (names[j], names[i]),
                         fontsize=12, y=1.0)

    fig.savefig("out.png", dpi=100)
    plt.close(fig)


if __name__ == "__main__":
    main()
